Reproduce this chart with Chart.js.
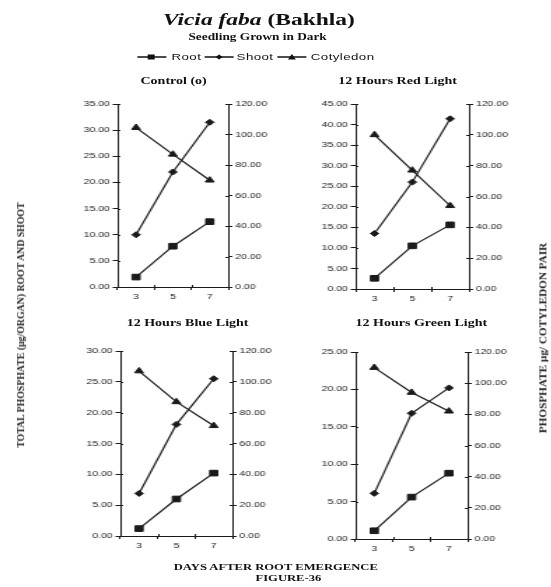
<!DOCTYPE html>
<html><head><meta charset="utf-8">
<script src="https://cdn.jsdelivr.net/npm/chart.js@4"></script>
<style>
html,body{margin:0;padding:0;background:#fff;width:551px;height:587px;overflow:hidden}
#stage{position:absolute;left:0;top:0;width:394px;height:587px;transform:scaleX(1.4);transform-origin:0 0}
.t{position:absolute;white-space:nowrap;color:#111;font-family:'Liberation Serif',serif;font-weight:bold;transform:translate(-50%,-50%);line-height:1}
.l{position:absolute;white-space:nowrap;color:#111;font-family:'Liberation Sans',Arial,sans-serif;font-size:9.5px;letter-spacing:0.3px;transform:translateY(-50%);line-height:1}
canvas{position:absolute}
.v{position:absolute;white-space:nowrap;font-family:'Liberation Serif',serif;font-weight:bold;color:#222;transform:translate(-50%,-50%) rotate(-90deg);line-height:1}
svg{position:absolute}
</style></head>
<body>
<div id="stage">
  <div class="t" style="left:185px;top:20px;font-size:16.8px"><i>Vicia faba</i> (Bakhla)</div>
  <div class="t" style="left:184px;top:38px;font-size:9.5px">Seedling Grown in Dark</div>

  <svg style="left:98px;top:52px" width="21" height="10"><line x1="0" y1="5" x2="21" y2="5" stroke="#111" stroke-width="1.3"/><rect x="7.5" y="2.5" width="5" height="5" fill="#111"/></svg>
  <div class="l" style="left:122.5px;top:57px">Root</div>
  <svg style="left:146px;top:52px" width="21" height="10"><line x1="0" y1="5" x2="21" y2="5" stroke="#111" stroke-width="1.3"/><polygon points="10.5,2.5 13,5 10.5,7.5 8,5" fill="#111"/></svg>
  <div class="l" style="left:169px;top:57px">Shoot</div>
  <svg style="left:198px;top:52px" width="21" height="10"><line x1="0" y1="5" x2="21" y2="5" stroke="#111" stroke-width="1.3"/><polygon points="10.5,2 13.3,7.5 7.7,7.5" fill="#111"/></svg>
  <div class="l" style="left:222px;top:57px">Cotyledon</div>

  <div class="t" style="left:124px;top:81px;font-size:10px">Control (o)</div>
  <div class="t" style="left:284px;top:81px;font-size:10px">12 Hours Red Light</div>
  <div class="t" style="left:134px;top:323px;font-size:10px">12 Hours Blue Light</div>
  <div class="t" style="left:301px;top:323px;font-size:10px">12 Hours Green Light</div>

  <canvas id="c0" width="144" height="209" style="left:54px;top:96px"></canvas>
  <canvas id="c1" width="146" height="211" style="left:224px;top:96px"></canvas>
  <canvas id="c2" width="145" height="211" style="left:56px;top:343px"></canvas>
  <canvas id="c3" width="145" height="213" style="left:224px;top:344px"></canvas>

  <div class="t" style="left:197px;top:567px;font-size:9px">DAYS AFTER ROOT EMERGENCE</div>
  <div class="t" style="left:206px;top:578px;font-size:9px">FIGURE-36</div>
</div>
<div class="v" style="left:21px;top:325px;font-size:9.8px">TOTAL PHOSPHATE (µg/ORGAN) ROOT AND SHOOT</div>
<div class="v" style="left:543px;top:338px;font-size:11.2px">PHOSPHATE µg/ COTYLEDON PAIR</div>

<script>
// ---- data ----
const days = ['3', '5', '7'];
const seriesNames = ['Root', 'Shoot', 'Cotyledon'];
const panelTitles = ['Control (o)', '12 Hours Red Light', '12 Hours Blue Light', '12 Hours Green Light'];

const rootControl = [1.9, 7.8, 12.5];
const shootControl = [10.0, 22.0, 31.5];
const cotyControl = [104.5, 87.0, 70.0];

const rootRed = [2.6, 10.5, 15.6];
const shootRed = [13.5, 26.0, 41.4];
const cotyRed = [100.0, 77.0, 54.0];

const rootBlue = [1.2, 6.0, 10.2];
const shootBlue = [6.9, 18.1, 25.5];
const cotyBlue = [107.0, 87.0, 71.5];

const rootGreen = [1.1, 5.6, 8.8];
const shootGreen = [6.1, 16.8, 20.2];
const cotyGreen = [110.0, 94.0, 82.0];

const leftAxisMax = [35, 45, 30, 25];
const leftAxisStep = 5;
const rightAxisMax = 120;
const rightAxisStep = 20;

// ---- drawing ----
const INK = '#1a1a1a';
const tickFont = {family: "'Liberation Sans', Arial, sans-serif", size: 7.5};
const tickColor = '#222';

const innerTicks = {
  id: 'innerTicks',
  afterDraw(chart) {
    const {ctx, chartArea: a, scales} = chart;
    ctx.save();
    ctx.strokeStyle = INK;
    ctx.lineWidth = 1;
    ctx.beginPath();
    scales.y.ticks.forEach((t, i) => {
      const p = Math.round(scales.y.getPixelForTick(i)) + 0.5;
      ctx.moveTo(a.left, p); ctx.lineTo(a.left + 2, p);
    });
    scales.y1.ticks.forEach((t, i) => {
      const p = Math.round(scales.y1.getPixelForTick(i)) + 0.5;
      ctx.moveTo(a.right - 2, p); ctx.lineTo(a.right, p);
    });
    const n = scales.x.ticks.length;
    for (let k = 1; k < n; k++) {
      const p = Math.round(a.left + (a.right - a.left) * k / n) + 0.5;
      ctx.moveTo(p, a.bottom - 2); ctx.lineTo(p, a.bottom);
    }
    ctx.stroke();
    ctx.restore();
  }
};

function ds(label, data, style, radius, axis) {
  return {
    label, data, yAxisID: axis,
    borderColor: INK, backgroundColor: INK,
    borderWidth: 1.2, tension: 0,
    pointStyle: style, pointRadius: radius, pointBorderWidth: 1,
    pointBackgroundColor: INK, pointBorderColor: INK
  };
}

function makePanel(id, root, shoot, coty, leftMax) {
  new Chart(document.getElementById(id), {
    type: 'line',
    data: {
      labels: days,
      datasets: [
        ds(seriesNames[0], root, 'rect', 4, 'y'),
        ds(seriesNames[1], shoot, 'rectRot', 3, 'y'),
        ds(seriesNames[2], coty, 'triangle', 3.6, 'y1')
      ]
    },
    options: {
      responsive: false,
      animation: false,
      layout: {padding: {top: 8, left: 0, right: 0, bottom: 0}},
      plugins: {legend: {display: false}, tooltip: {enabled: false}},
      scales: {
        x: {
          type: 'category', offset: true,
          grid: {offset: true, drawOnChartArea: false, tickLength: 3, color: INK},
          border: {color: INK, width: 1},
          ticks: {padding: 2, font: tickFont, color: tickColor, maxRotation: 0},
          afterFit(s) { s.height = 18; }
        },
        y: {
          position: 'left', min: 0, max: leftMax,
          grid: {drawOnChartArea: false, tickLength: 3.5, color: INK},
          border: {color: INK, width: 1},
          ticks: {stepSize: leftAxisStep, padding: 2, font: tickFont, color: tickColor,
                  callback: v => Number(v).toFixed(2)},
          afterFit(s) { s.width = 30; }
        },
        y1: {
          position: 'right', min: 0, max: rightAxisMax,
          grid: {drawOnChartArea: false, tickLength: 3, color: INK},
          border: {color: INK, width: 1},
          ticks: {stepSize: rightAxisStep, padding: 2, font: tickFont, color: tickColor,
                  callback: v => Number(v).toFixed(2)},
          afterFit(s) { s.width = 35; }
        }
      }
    },
    plugins: [innerTicks]
  });
}

makePanel('c0', rootControl, shootControl, cotyControl, leftAxisMax[0]);
makePanel('c1', rootRed, shootRed, cotyRed, leftAxisMax[1]);
makePanel('c2', rootBlue, shootBlue, cotyBlue, leftAxisMax[2]);
makePanel('c3', rootGreen, shootGreen, cotyGreen, leftAxisMax[3]);
</script>
</body></html>
